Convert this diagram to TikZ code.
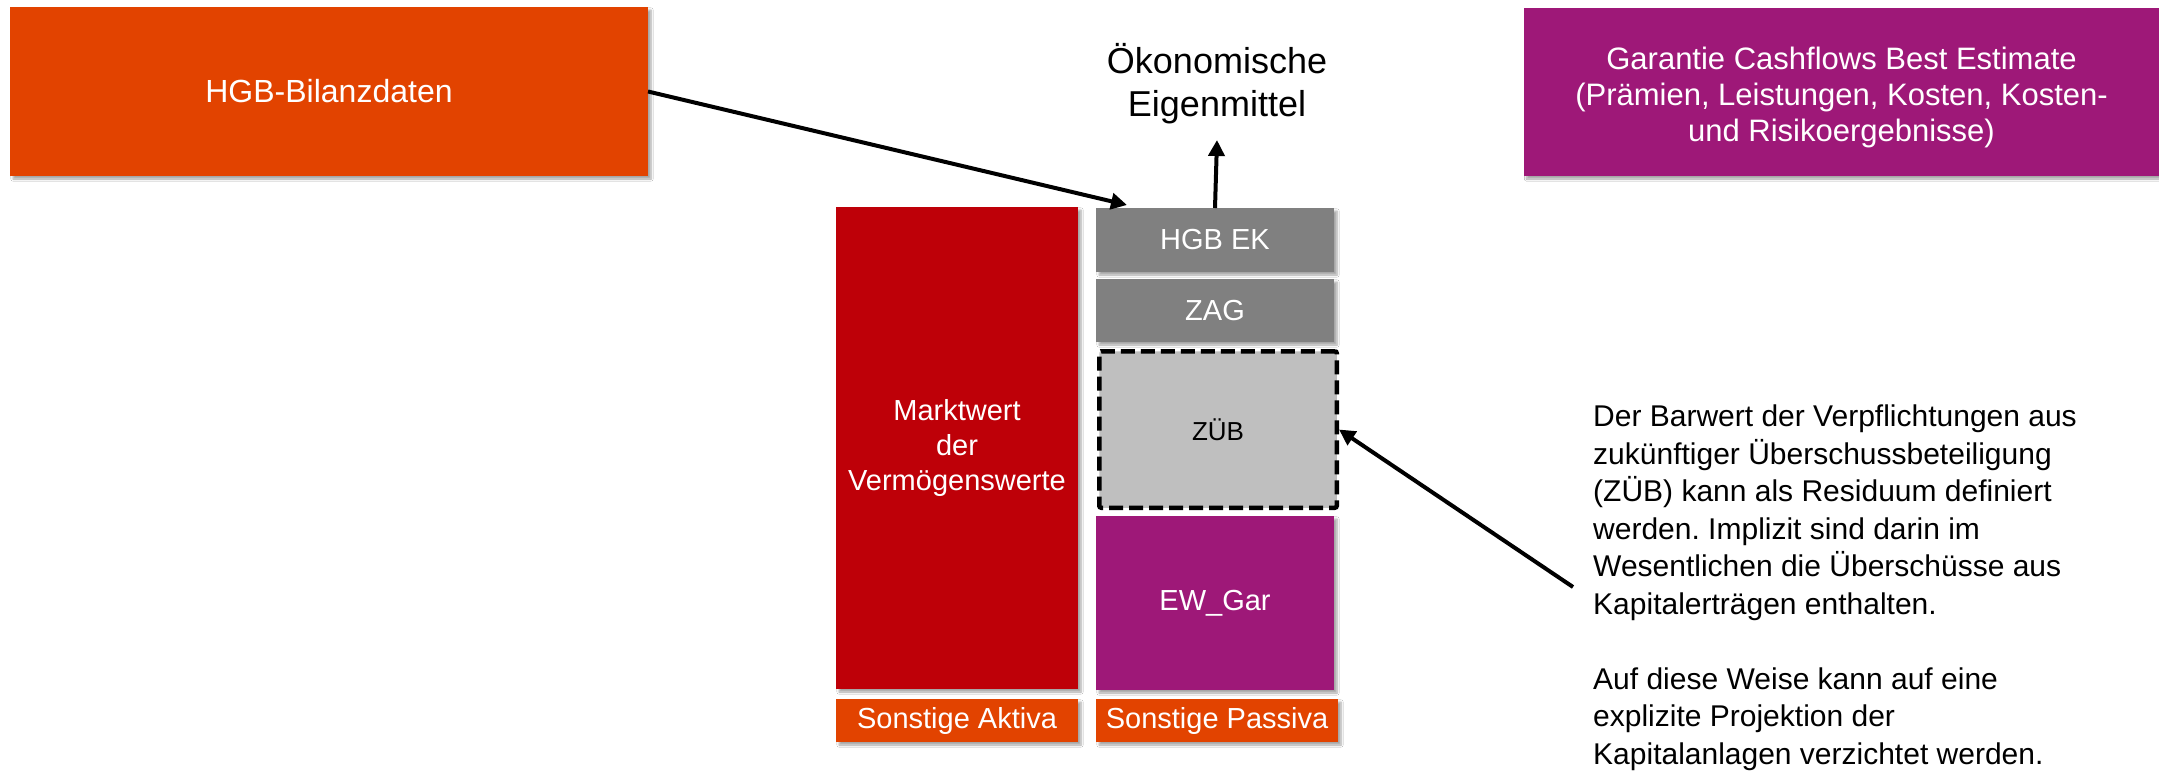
\documentclass[tikz,border=0pt]{standalone}
\usepackage{fontspec}
\setmainfont{Liberation Sans}
\usetikzlibrary{arrows.meta,shadows.blur}
\definecolor{hgbor}{HTML}{E24300}
\definecolor{mwred}{HTML}{BE0008}
\definecolor{gpurple}{HTML}{9E1878}
\definecolor{ekgray}{HTML}{808080}
\definecolor{zubgray}{HTML}{BFBFBF}
\frenchspacing
\begin{document}
\begin{tikzpicture}[x=1pt,y=-1pt,
  box/.style={rectangle, inner sep=0pt, outer sep=0pt, text=white, align=center,
    blur shadow={shadow xshift=3pt, shadow yshift=-3pt, shadow blur steps=6, shadow opacity=35}},
  boxfont/.style={font=\fontsize{29}{35}\selectfont},
  arr/.style={line width=4pt, -{Triangle[length=16pt,width=16pt]}},
  ]
\useasboundingbox (0,0) rectangle (2159,777);
\fill[white] (0,0) rectangle (2159,777);

\node[box, fill=hgbor, minimum width=638pt, minimum height=169pt, font=\fontsize{32}{38}\selectfont] (hgb) at (329,91.5) {HGB-Bilanzdaten};

\node[box, fill=gpurple, minimum width=636pt, minimum height=168pt] (gar) at (1841.5,92) {};
\node[font=\fontsize{31}{36}\selectfont, text=white, align=center, inner sep=0pt] (gartxt) at (1841.5,97) {Garantie Cashflows Best Estimate\\(Prämien, Leistungen, Kosten, Kosten-\\und Risikoergebnisse)};

\node[font=\fontsize{36}{43}\selectfont, align=center, inner sep=0pt] (oek) at (1217,84) {Ökonomische\\Eigenmittel};

\node[box, boxfont, fill=mwred, minimum width=242pt, minimum height=482pt] (mw) at (957,448) {Marktwert\\der\\Vermögenswerte};

\node[box, boxfont, fill=ekgray, minimum width=238pt, minimum height=64pt] (hgbek) at (1215,240) {HGB EK};
\node[box, boxfont, fill=ekgray, minimum width=238pt, minimum height=63pt] (zag) at (1215,310.5) {ZAG};
\node[rectangle, inner sep=0pt, fill=zubgray, draw=black, line width=4.5pt, dash pattern=on 14pt off 6pt, rounded corners=2pt, minimum width=237.5pt, minimum height=156.5pt, font=\fontsize{26}{31}\selectfont] (zub) at (1218,429.5) {ZÜB};
\node[box, boxfont, fill=gpurple, minimum width=238pt, minimum height=174pt] (ewgar) at (1215,603) {EW\_Gar};

\node[box, boxfont, fill=hgbor, minimum width=242pt, minimum height=43pt] (sa) at (957,720.5) {Sonstige Aktiva};
\node[box, boxfont, fill=hgbor, minimum width=242pt, minimum height=43pt] (sp) at (1217,720.5) {Sonstige Passiva};

\node[anchor=north west, align=left, inner sep=0pt, font=\fontsize{30}{37.5}\selectfont] (note) at (1593,405) {Der Barwert der Verpflichtungen aus\\zukünftiger Überschussbeteiligung\\(ZÜB) kann als Residuum definiert\\werden. Implizit sind darin im\\Wesentlichen die Überschüsse aus\\Kapitalerträgen enthalten.\\[37.5pt]Auf diese Weise kann auf eine\\explizite Projektion der\\Kapitalanlagen verzichtet werden.};

\coordinate (ekin) at (1127,205);
\coordinate (oektip) at (1217,140);
\coordinate (notept) at (1573,587);
\draw[arr] (hgb.east) -- (ekin);
\draw[arr] (hgbek.north) -- (oektip);
\draw[arr] (notept) -- (zub.east);
\end{tikzpicture}
\end{document}
